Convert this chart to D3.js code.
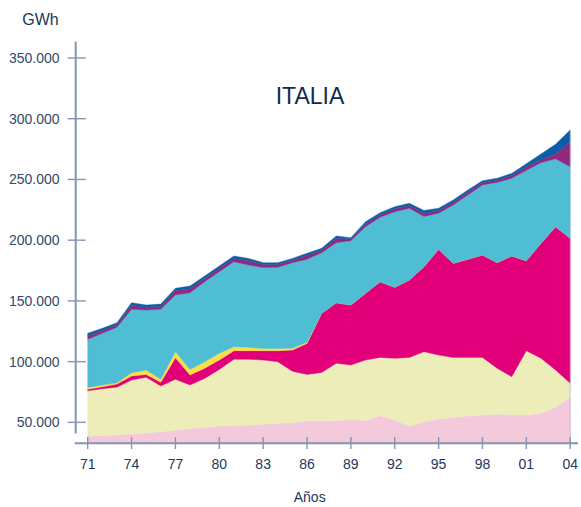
<!DOCTYPE html>
<html>
<head>
<meta charset="utf-8">
<script src="https://cdn.jsdelivr.net/npm/d3@7"></script>
<style>
  html, body { margin: 0; padding: 0; background: #ffffff; }
  svg { display: block; font-family: "Liberation Sans", Arial, Helvetica, sans-serif; }
</style>
</head>
<body>
<svg id="chart" width="581" height="507"></svg>
<script>
// ---------- DATA (GWh) ----------
const years = [1971,1972,1973,1974,1975,1976,1977,1978,1979,1980,1981,1982,1983,1984,1985,1986,1987,1988,1989,1990,1991,1992,1993,1994,1995,1996,1997,1998,1999,2000,2001,2002,2003,2004];

const seriesPink    = [38700,39200,39600,40400,41200,42200,43700,44800,45900,47000,47500,47800,48400,49200,49700,51100,51300,51300,52500,51500,55500,51900,47000,50500,52500,54100,55200,56000,56800,56000,56000,57400,62400,70600];
const seriesCream   = [37300,38500,39400,44400,45900,37800,41700,35900,40300,46600,54400,54100,52900,50700,42300,38400,39700,47300,44700,49800,48000,50800,56500,57700,52900,49400,48300,47500,37700,31600,53000,45300,30700,11500];
const seriesMagenta = [1200,1600,2500,3300,2400,3000,17800,8300,8300,7700,7100,7100,7700,9100,17500,25500,48800,49900,49400,55000,62300,58500,63700,70000,87100,77500,80800,84300,87000,99400,74100,94700,118000,119500];
const seriesYellow  = [1600,1400,1100,2800,3600,2500,5000,4600,5400,5500,3300,2800,1800,1800,1500,1000,0,0,0,0,0,0,0,0,0,0,0,0,0,0,0,0,0,0];
const seriesCyan    = [39600,42600,45700,52200,49400,57600,46700,63200,65900,67300,70000,67700,66700,66900,70500,68300,49900,49400,53000,54800,53100,62300,59100,41300,29700,48000,52900,57700,66000,64000,74400,66400,55900,58900];
const seriesPurple  = [2900,2300,2000,3300,2300,2500,3600,3200,2700,2700,2700,3500,2500,2300,2000,3200,2100,3600,1500,2400,2100,2300,2200,2500,2300,2300,2300,2000,1800,2200,2800,2400,4000,20500];
const seriesBlue    = [2000,1800,1700,2100,1800,1800,1900,2300,2000,1900,2000,2000,1500,1500,1500,1700,1500,2000,1000,1700,1600,1800,1900,2500,1800,1800,1800,1500,1700,1800,2700,4800,8000,9800];

const seriesKeys   = ["pink","cream","magenta","yellow","cyan","purple","blue"];
const seriesColors = ["#f5c9dc","#ecedb9","#e2007a","#f8df4a","#4fbdd3","#90297f","#0b5ea6"];
const yTickValues  = [50000,100000,150000,200000,250000,300000,350000];
const xTickValues  = [1971,1974,1977,1980,1983,1986,1989,1992,1995,1998,2001,2004];

const titleText = "ITALIA";
const yUnitText = "GWh";
const xAxisText = "Años";

// ---------- LAYOUT ----------
const W = 581, H = 507;
const xLeft = 87.7, xRight = 570.2;
const yBottom = 443, yTop = 58;
const yDomainMin = 33000, yDomainMax = 350000;
const axisColor = "#8593b4";
const textColor = "#22395d";

const svg = d3.select("#chart");
svg.append("rect").attr("width", W).attr("height", H).attr("fill", "#ffffff");

const x = d3.scaleLinear().domain([years[0], years[years.length - 1]]).range([xLeft, xRight]);
const y = d3.scaleLinear().domain([yDomainMin, yDomainMax]).range([yBottom, yTop]);

const table = years.map((yr, i) => ({
  year: yr,
  pink: seriesPink[i], cream: seriesCream[i], magenta: seriesMagenta[i],
  yellow: seriesYellow[i], cyan: seriesCyan[i], purple: seriesPurple[i], blue: seriesBlue[i]
}));

const stacked = d3.stack().keys(seriesKeys)(table);

svg.append("defs").append("clipPath").attr("id", "plotClip")
  .append("rect").attr("x", 0).attr("y", 0).attr("width", W).attr("height", yBottom);

const area = d3.area()
  .x(d => x(d.data.year))
  .y0(d => y(d[0]))
  .y1(d => y(d[1]))
  .curve(d3.curveLinear);

svg.append("g").attr("clip-path", "url(#plotClip)")
  .selectAll("path").data(stacked).join("path")
  .attr("d", area)
  .attr("fill", (d, i) => seriesColors[i])
  .attr("stroke", (d, i) => seriesColors[i])
  .attr("stroke-width", 0.4);

// faint right edge line at last year
svg.append("line")
  .attr("x1", x(years[years.length - 1])).attr("x2", x(years[years.length - 1]))
  .attr("y1", y(d3.sum(seriesKeys, k => table[table.length - 1][k]))).attr("y2", yBottom)
  .attr("stroke", "#b8b2d8").attr("stroke-width", 1).attr("opacity", 0.7);

// ---------- AXES ----------
const yAxisX = 75.7;
svg.append("line")
  .attr("x1", yAxisX).attr("x2", yAxisX)
  .attr("y1", 41.5).attr("y2", 433.5)
  .attr("stroke", axisColor).attr("stroke-width", 2);

svg.append("line")
  .attr("x1", yAxisX - 1).attr("x2", 578)
  .attr("y1", yBottom + 0.3).attr("y2", yBottom + 0.3)
  .attr("stroke", axisColor).attr("stroke-width", 2);

const locale = d3.formatLocale({ decimal: ",", thousands: ".", grouping: [3], currency: ["", ""] });
const fmt = locale.format(",");

const yt = svg.append("g");
yt.selectAll("line").data(yTickValues).join("line")
  .attr("x1", yAxisX - 8).attr("x2", yAxisX + 10)
  .attr("y1", d => y(d)).attr("y2", d => y(d))
  .attr("stroke", axisColor).attr("stroke-width", 1.4);
yt.selectAll("text").data(yTickValues).join("text")
  .attr("x", 59.5).attr("y", d => y(d)).attr("dy", "0.36em")
  .attr("text-anchor", "end")
  .attr("font-size", 14).attr("fill", "#33486c")
  .text(d => fmt(d));

const xt = svg.append("g");
xt.selectAll("line").data(xTickValues).join("line")
  .attr("x1", d => x(d)).attr("x2", d => x(d))
  .attr("y1", yBottom - 6).attr("y2", yBottom + 6)
  .attr("stroke", axisColor).attr("stroke-width", 1.4);
xt.selectAll("text").data(xTickValues).join("text")
  .attr("x", d => x(d)).attr("y", 469)
  .attr("text-anchor", "middle")
  .attr("font-size", 14).attr("fill", textColor)
  .text(d => String(d).slice(2));

// ---------- TEXT ----------
svg.append("text").attr("x", 310).attr("y", 103.5)
  .attr("text-anchor", "middle").attr("font-size", 23)
  .attr("fill", "#0f2b52").text(titleText);

svg.append("text").attr("x", 40.5).attr("y", 25)
  .attr("text-anchor", "middle").attr("font-size", 16)
  .attr("fill", "#1c3557").text(yUnitText);

svg.append("text").attr("x", 309.7).attr("y", 501.7)
  .attr("text-anchor", "middle").attr("font-size", 14)
  .attr("fill", textColor).text(xAxisText);
</script>
</body>
</html>
